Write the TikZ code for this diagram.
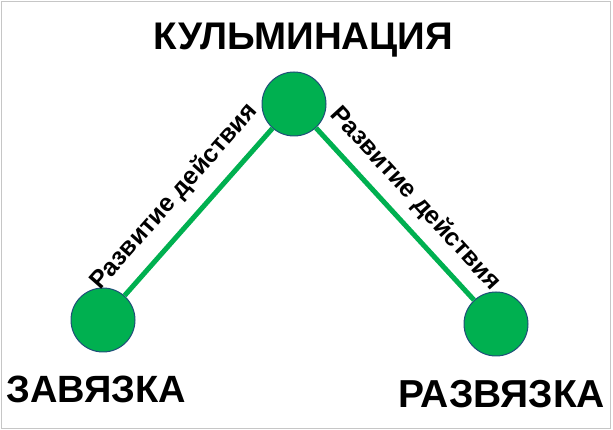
\documentclass[tikz,border=0pt]{standalone}
\usepackage{fontspec}
\setmainfont{Liberation Sans}
\definecolor{plotgreen}{HTML}{00B050}
\definecolor{rimblue}{HTML}{1F4E79}
\begin{document}
\begin{tikzpicture}[x = 1pt, y = 1pt,
  point/.style = {circle, draw = rimblue, line width = 1pt, fill = plotgreen, minimum size = 64pt, inner sep = 0pt},
  stage/.style = {font = \bfseries\fontsize{#1}{#1}\selectfont, anchor = base, inner sep = 0pt},
  stage/.default = 38.5,
  arc/.style = {draw = plotgreen, line width = 5pt},
  rise/.style = {font = \bfseries\fontsize{25}{25}\selectfont, sloped, inner sep = 0pt}]
\useasboundingbox (0,0) rectangle (613,430);
\draw [gray!45] (1,2) rectangle (610,429);
\node [point] (kul) at (294,326) {};
\node [point] (zav) at (103,110) {};
\node [point] (raz) at (496,106) {};
\draw [arc] (zav) -- node [rise, pos = 0.48, above = 14pt] (risel) {Развитие действия} (kul);
\draw [arc] (kul) -- node [rise, pos = 0.51, above = 11pt] (riser) {Развитие действия} (raz);
\node [stage] (kultxt) at (303.5,380) {КУЛЬМИНАЦИЯ};
\node [stage = 38] (zavtxt) at (96.5,27) {ЗАВЯЗКА};
\node [stage = 39] (raztxt) at (501.7,22) {РАЗВЯЗКА};
\end{tikzpicture}
\end{document}
